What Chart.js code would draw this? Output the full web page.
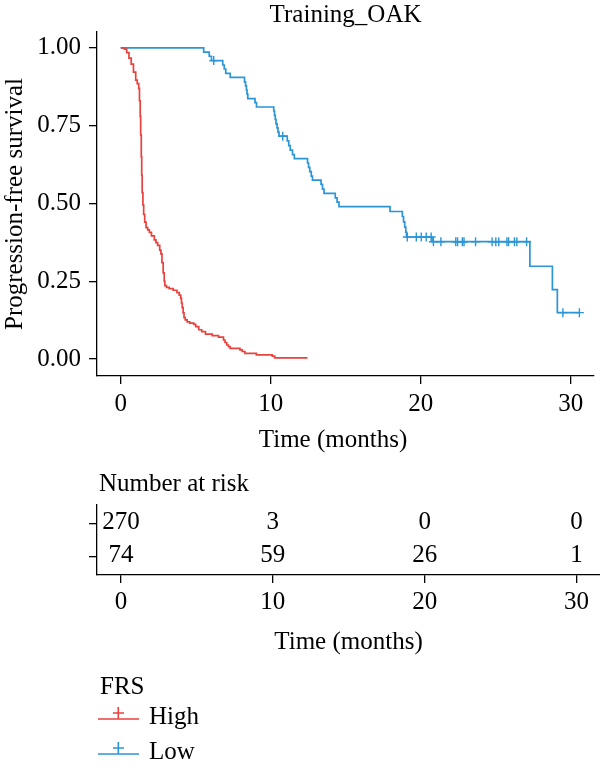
<!DOCTYPE html>
<html>
<head>
<meta charset="utf-8">
<script src="https://cdn.jsdelivr.net/npm/chart.js@4.4.1/dist/chart.umd.min.js"></script>
<style>
  body { margin: 0; background: #fff; }
  #wrap { position: relative; width: 600px; height: 768px; }
  canvas { position: absolute; left: 0; }
  #km { top: 0; }
  #risk { top: 460px; }
</style>
</head>
<body>
<div id="wrap">
  <canvas id="km" width="600" height="460"></canvas>
  <canvas id="risk" width="600" height="308"></canvas>
</div>
<script>
// data
const groups = ["High", "Low"];
const colors = ["#e8423e", "#2b95d6"];

const highTime = [0, 0.25, 0.4, 0.55, 0.7, 0.85, 1.0, 1.1, 1.2, 1.25, 1.3, 1.33, 1.37, 1.4, 1.43, 1.48, 1.53, 1.6, 1.69, 1.8, 1.91, 2.05, 2.24, 2.35, 2.46, 2.6, 2.68, 2.75, 2.83, 2.9, 2.94, 3.05, 3.23, 3.5, 3.75, 3.9, 4.0, 4.05, 4.1, 4.16, 4.22, 4.3, 4.43, 4.6, 4.87, 5.0, 5.2, 5.4, 5.65, 6.1, 6.52, 6.85, 6.95, 7.07, 7.18, 7.29, 7.95, 8.1, 8.28, 9.04, 10.1, 10.26, 12.45];
const highSurv = [1, 0.996, 0.985, 0.967, 0.948, 0.922, 0.896, 0.885, 0.87, 0.83, 0.78, 0.72, 0.65, 0.59, 0.535, 0.495, 0.465, 0.44, 0.422, 0.415, 0.407, 0.396, 0.383, 0.374, 0.365, 0.35, 0.338, 0.31, 0.277, 0.25, 0.236, 0.23, 0.226, 0.221, 0.213, 0.205, 0.195, 0.18, 0.165, 0.148, 0.133, 0.126, 0.119, 0.115, 0.111, 0.104, 0.094, 0.088, 0.08, 0.075, 0.07, 0.061, 0.053, 0.045, 0.04, 0.034, 0.029, 0.024, 0.018, 0.013, 0.0093, 0.0037, 0.0037];

const lowTime = [0, 5.53, 5.9, 6.05, 6.8, 6.9, 7.0, 7.3, 8.25, 8.32, 8.38, 8.42, 8.47, 8.95, 9.05, 10.2, 10.25, 10.3, 10.35, 10.42, 10.48, 10.55, 11.1, 11.2, 11.3, 11.45, 11.57, 12.45, 12.52, 12.6, 12.7, 12.78, 13.35, 13.45, 13.55, 14.3, 14.42, 14.55, 17.95, 18.77, 18.85, 18.93, 19.0, 19.05, 20.75, 27.27, 28.77, 29.1, 30.6];
const lowSurv = [1, 0.986, 0.973, 0.959, 0.945, 0.932, 0.918, 0.905, 0.891, 0.878, 0.864, 0.851, 0.837, 0.824, 0.81, 0.797, 0.783, 0.77, 0.756, 0.743, 0.729, 0.716, 0.701, 0.686, 0.671, 0.657, 0.644, 0.63, 0.616, 0.602, 0.588, 0.575, 0.561, 0.546, 0.532, 0.518, 0.504, 0.49, 0.474, 0.458, 0.441, 0.424, 0.408, 0.392, 0.377, 0.298, 0.223, 0.149, 0.149];

const lowCensorTime = [6.2, 10.8, 19.1, 19.7, 20.03, 20.36, 20.69, 20.84, 21.34, 22.33, 22.45, 22.77, 22.88, 23.65, 24.75, 25.0, 25.2, 25.74, 25.85, 26.24, 26.4, 27.05, 29.47, 30.57];
const lowCensorSurv = [0.959, 0.716, 0.392, 0.392, 0.392, 0.392, 0.392, 0.377, 0.377, 0.377, 0.377, 0.377, 0.377, 0.377, 0.377, 0.377, 0.377, 0.377, 0.377, 0.377, 0.377, 0.377, 0.149, 0.149];

const xTicks = [0, 10, 20, 30];
const yTicks = [0, 0.25, 0.5, 0.75, 1];
const yTickLabels = ["0.00", "0.25", "0.50", "0.75", "1.00"];

const riskTimes = [0, 10, 20, 30];
const riskHigh = [270, 3, 0, 0];
const riskLow = [74, 59, 26, 1];

const serif = "'Liberation Serif', 'Times New Roman', serif";
const fontPx = 25;
Chart.defaults.font.family = serif;
Chart.defaults.font.size = fontPx;
Chart.defaults.color = "#000";

function pts(xs, ys) {
  return xs.map((x, i) => ({ x: x, y: ys[i] }));
}

// force the axis boxes to a fixed size so the plot area lands where it should
function fixSize(size) {
  return function (scale) {
    if (scale.isHorizontal()) scale.height = size;
    else scale.width = size;
    scale.paddingTop = 0;
    scale.paddingBottom = 0;
    scale.paddingLeft = 0;
    scale.paddingRight = 0;
  };
}

function setTicks(values) {
  return function (scale) {
    scale.ticks = values.map(v => ({ value: v }));
  };
}

const border = { display: true, color: "#000", width: 1.3 };
const tickMarks = { drawOnChartArea: false, drawTicks: true, tickLength: 8, color: "#000", lineWidth: 1.3 };
const xMin = -1.58, xMax = 31.55;

const kmText = {
  id: "kmText",
  afterDraw(chart) {
    const ctx = chart.ctx, a = chart.chartArea;
    ctx.save();
    ctx.fillStyle = "#000";
    ctx.font = fontPx + "px " + serif;
    ctx.textAlign = "center";
    ctx.textBaseline = "middle";
    ctx.fillText("Training_OAK", (a.left + a.right) / 2, 15);
    ctx.fillText("Time (months)", a.left + 236, 440);
    ctx.restore();
  }
};

new Chart(document.getElementById("km"), {
  type: "line",
  data: {
    datasets: [
      {
        label: groups[0],
        data: pts(highTime, highSurv),
        borderColor: colors[0],
        borderWidth: 1.7,
        stepped: true,
        pointRadius: 0,
        fill: false
      },
      {
        label: groups[1],
        data: pts(lowTime, lowSurv),
        borderColor: colors[1],
        borderWidth: 1.7,
        stepped: true,
        pointRadius: 0,
        fill: false
      },
      {
        type: "scatter",
        label: groups[1] + " censored",
        data: pts(lowCensorTime, lowCensorSurv),
        borderColor: colors[1],
        backgroundColor: colors[1],
        pointStyle: "cross",
        pointRadius: 4.5,
        borderWidth: 1.4,
        showLine: false
      }
    ]
  },
  options: {
    responsive: false,
    animation: false,
    devicePixelRatio: 1,
    layout: { padding: { top: 32, left: 0, right: 0, bottom: 0 } },
    plugins: { legend: { display: false }, tooltip: { enabled: false } },
    scales: {
      x: {
        type: "linear",
        min: xMin,
        max: xMax,
        border: border,
        grid: tickMarks,
        ticks: { padding: 5, callback: v => String(v) },
        afterBuildTicks: setTicks(xTicks),
        afterFit: fixSize(84)
      },
      y: {
        type: "linear",
        min: -0.0547,
        max: 1.051,
        border: border,
        grid: tickMarks,
        ticks: { padding: 8, callback: (v, i) => yTickLabels[i] },
        afterBuildTicks: setTicks(yTicks),
        afterFit: fixSize(97),
        title: { display: true, text: "Progression-free survival", padding: { top: 0, bottom: 0 } }
      }
    }
  },
  plugins: [kmText]
});

const riskText = {
  id: "riskText",
  afterDraw(chart) {
    const ctx = chart.ctx;
    ctx.save();
    ctx.fillStyle = "#000";
    ctx.font = fontPx + "px " + serif;
    ctx.textBaseline = "middle";
    ctx.textAlign = "center";
    [riskHigh, riskLow].forEach((vals, d) => {
      chart.getDatasetMeta(d).data.forEach((el, i) => {
        ctx.fillText(String(vals[i]), el.x, el.y - 1);
      });
    });
    ctx.fillText("Time (months)", (chart.chartArea.left + chart.chartArea.right) / 2, 182);
    ctx.textAlign = "left";
    ctx.fillText("Number at risk", 99, 24);

    // legend
    ctx.fillText("FRS", 100, 227);
    groups.forEach((g, k) => {
      const ly = 259 + k * 35;
      ctx.strokeStyle = colors[k];
      ctx.lineWidth = 1.6;
      ctx.beginPath();
      ctx.moveTo(98, ly);
      ctx.lineTo(139, ly);
      ctx.moveTo(113, ly - 6);
      ctx.lineTo(124, ly - 6);
      ctx.moveTo(118.3, ly - 12);
      ctx.lineTo(118.3, ly);
      ctx.stroke();
      ctx.fillStyle = "#000";
      ctx.fillText(g, 149, ly - 2);
    });
    ctx.restore();
  }
};

new Chart(document.getElementById("risk"), {
  type: "scatter",
  data: {
    datasets: [
      { label: groups[0], data: riskTimes.map(t => ({ x: t, y: 2 })), pointRadius: 0 },
      { label: groups[1], data: riskTimes.map(t => ({ x: t, y: 1 })), pointRadius: 0 }
    ]
  },
  options: {
    responsive: false,
    animation: false,
    devicePixelRatio: 1,
    layout: { padding: { top: 45, left: 0, right: 0, bottom: 0 } },
    plugins: { legend: { display: false }, tooltip: { enabled: false } },
    scales: {
      x: {
        type: "linear",
        min: xMin,
        max: xMax,
        border: border,
        grid: tickMarks,
        ticks: { padding: 4, callback: v => String(v) },
        afterBuildTicks: setTicks(xTicks),
        afterFit: fixSize(193)
      },
      y: {
        type: "linear",
        min: 0.45,
        max: 2.55,
        border: border,
        grid: tickMarks,
        ticks: { padding: 0, callback: () => "" },
        afterBuildTicks: setTicks([1, 2]),
        afterFit: fixSize(97)
      }
    }
  },
  plugins: [riskText]
});
</script>
</body>
</html>
